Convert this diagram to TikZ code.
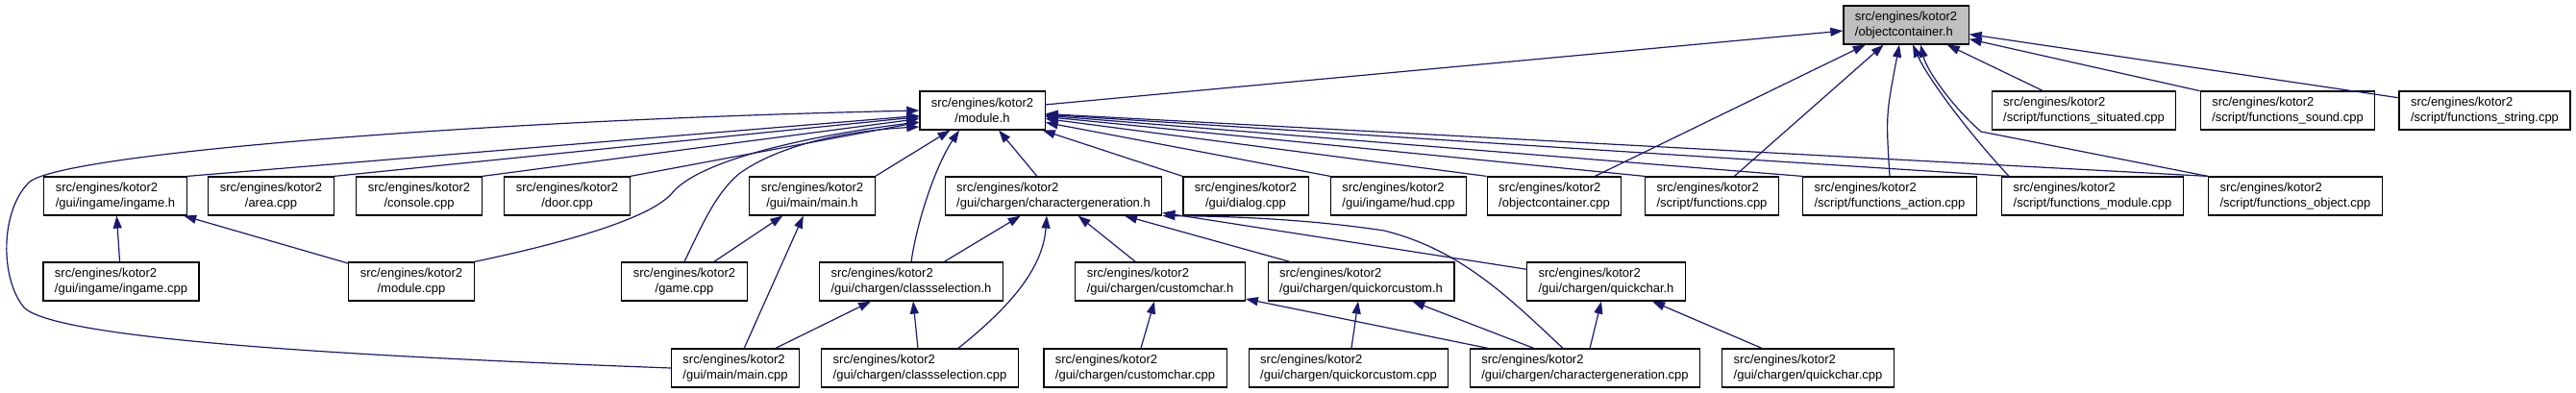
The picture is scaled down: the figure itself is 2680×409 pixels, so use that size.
\documentclass[tikz,border=0pt]{standalone}
\usepackage{fontspec}
\setmainfont{Liberation Sans}
\usepackage{tikz}
\usetikzlibrary{arrows.meta}
\definecolor{midnightblue}{HTML}{191970}

\begin{document}
\begin{tikzpicture}[x=1pt,y=-1pt,>={Triangle[length=13pt,width=9pt]},
  incfile/.style={draw=black,line width=1.2pt,fill=white,align=left,minimum height=40pt,inner xsep=12pt,font=\fontsize{13}{16}\selectfont},
  incfilec/.style={incfile,align=center},
  root/.style={incfile,fill=gray!50},
  inc/.style={->,draw=midnightblue,line width=1.2pt}]
\useasboundingbox (0,0) rectangle (2680,409);
\node[root] (objh) at (1983,26) {src/engines/kotor2\\/objectcontainer.h};
\node[incfilec] (moduleh) at (1022,115) {src/engines/kotor2\\/module.h};
\node[incfile] (funcsituated) at (2168,115) {src/engines/kotor2\\/script/functions\_situated.cpp};
\node[incfile] (funcsound) at (2380,115) {src/engines/kotor2\\/script/functions\_sound.cpp};
\node[incfile] (funcstring) at (2585,115) {src/engines/kotor2\\/script/functions\_string.cpp};
\node[incfile] (ingameh) at (120,204) {src/engines/kotor2\\/gui/ingame/ingame.h};
\node[incfilec] (areacpp) at (282,204) {src/engines/kotor2\\/area.cpp};
\node[incfilec] (consolecpp) at (436,204) {src/engines/kotor2\\/console.cpp};
\node[incfilec] (doorcpp) at (590,204) {src/engines/kotor2\\/door.cpp};
\node[incfilec] (mainh) at (845,204) {src/engines/kotor2\\/gui/main/main.h};
\node[incfile] (chargenh) at (1096,204) {src/engines/kotor2\\/gui/chargen/charactergeneration.h};
\node[incfilec] (dialogcpp) at (1296,204) {src/engines/kotor2\\/gui/dialog.cpp};
\node[incfile] (hudcpp) at (1455,204) {src/engines/kotor2\\/gui/ingame/hud.cpp};
\node[incfile] (objcpp) at (1617,204) {src/engines/kotor2\\/objectcontainer.cpp};
\node[incfile] (funcscpp) at (1781,204) {src/engines/kotor2\\/script/functions.cpp};
\node[incfile] (funcaction) at (1966,204) {src/engines/kotor2\\/script/functions\_action.cpp};
\node[incfile] (funcmodule) at (2177,204) {src/engines/kotor2\\/script/functions\_module.cpp};
\node[incfile] (funcobject) at (2388,204) {src/engines/kotor2\\/script/functions\_object.cpp};
\node[incfile] (ingamecpp) at (126,293) {src/engines/kotor2\\/gui/ingame/ingame.cpp};
\node[incfilec] (modulecpp) at (428,293) {src/engines/kotor2\\/module.cpp};
\node[incfilec] (gamecpp) at (712,293) {src/engines/kotor2\\/game.cpp};
\node[incfile] (classh) at (948,293) {src/engines/kotor2\\/gui/chargen/classselection.h};
\node[incfile] (customh) at (1207,293) {src/engines/kotor2\\/gui/chargen/customchar.h};
\node[incfile] (quickcusth) at (1416,293) {src/engines/kotor2\\/gui/chargen/quickorcustom.h};
\node[incfile] (quickh) at (1671,293) {src/engines/kotor2\\/gui/chargen/quickchar.h};
\node[incfile] (maincpp) at (765,383) {src/engines/kotor2\\/gui/main/main.cpp};
\node[incfile] (classcpp) at (957,383) {src/engines/kotor2\\/gui/chargen/classselection.cpp};
\node[incfile] (customcpp) at (1181,383) {src/engines/kotor2\\/gui/chargen/customchar.cpp};
\node[incfile] (quickcustcpp) at (1403,383) {src/engines/kotor2\\/gui/chargen/quickorcustom.cpp};
\node[incfile] (chargencpp) at (1649,383) {src/engines/kotor2\\/gui/chargen/charactergeneration.cpp};
\node[incfile] (quickcpp) at (1881,383) {src/engines/kotor2\\/gui/chargen/quickchar.cpp};
\draw[inc] (moduleh) -- (objh);
\draw[inc] (funcsituated) -- (objh);
\draw[inc] (funcsound) -- (objh);
\draw[inc] (funcstring) -- (objh);
\draw[inc] (objcpp) -- (objh);
\draw[inc] (funcscpp) -- (objh);
\draw[inc] (funcaction.north) .. controls (1962,120) .. ([xshift=-7pt]objh.south);
\draw[inc] ([xshift=8pt]funcmodule.north west) .. controls (2045,135) and (2005,80) .. ([xshift=7pt]objh.south);
\draw[inc] (funcobject.north west) -- (2061,137) .. controls (2035,115) and (2005,75) .. ([xshift=15pt]objh.south);
\draw[inc] (ingameh.north east) -- (moduleh);
\draw[inc] (areacpp.north east) -- (moduleh);
\draw[inc] (consolecpp.north east) -- (moduleh);
\draw[inc] (doorcpp.north east) -- (moduleh);
\draw[inc] (mainh.north east) -- (moduleh);
\draw[inc] (chargenh) -- (moduleh);
\draw[inc] (dialogcpp.north west) -- (moduleh);
\draw[inc] (hudcpp.north west) -- (moduleh);
\draw[inc] (objcpp.north west) -- (moduleh);
\draw[inc] (funcscpp.north west) -- (moduleh);
\draw[inc] (funcaction.north west) -- (moduleh);
\draw[inc] ([xshift=8pt]funcmodule.north west) -- (moduleh);
\draw[inc] (funcobject.north west) -- (moduleh);
\draw[inc] (modulecpp.north east) .. controls (600,250) and (680,225) .. (700,200) .. controls (730,165) and (850,140) .. ([yshift=-12pt]moduleh.west);
\draw[inc] (gamecpp.north) .. controls (730,235) and (745,200) .. (770,180) .. controls (820,145) and (900,135) .. ([yshift=-17pt]moduleh.west);
\draw[inc] (maincpp.west) .. controls (400,372) and (60,355) .. (25,320) .. controls (0,290) and (0,220) .. (30,190) .. controls (60,160) and (500,125) .. (moduleh.west);
\draw[inc] (classh.north) .. controls (955,225) and (975,170) .. ([xshift=-24pt]moduleh.south);
\draw[inc] (ingamecpp) -- (ingameh);
\draw[inc] (modulecpp) -- (ingameh);
\draw[inc] (gamecpp) -- (mainh);
\draw[inc] (maincpp) -- (mainh);
\draw[inc] (maincpp) -- (classh);
\draw[inc] (classcpp) -- (classh);
\draw[inc] (classh) -- (chargenh);
\draw[inc] (customh) -- (chargenh);
\draw[inc] (quickcusth) -- (chargenh);
\draw[inc] (quickh) -- (chargenh);
\draw[inc] ([xshift=40pt]classcpp.north) .. controls (1050,320) and (1085,280) .. ([xshift=-7pt]chargenh.south);
\draw[inc] ([xshift=-23pt]chargencpp.north) .. controls (1570,310) and (1520,260) .. (1440,240) .. controls (1360,228) and (1280,225) .. (chargenh.south east);
\draw[inc] (customcpp) -- (customh);
\draw[inc] (chargencpp) -- (customh);
\draw[inc] (quickcustcpp) -- (quickcusth);
\draw[inc] (chargencpp) -- (quickcusth);
\draw[inc] (chargencpp) -- (quickh);
\draw[inc] (quickcpp) -- (quickh);
\end{tikzpicture}
\end{document}
